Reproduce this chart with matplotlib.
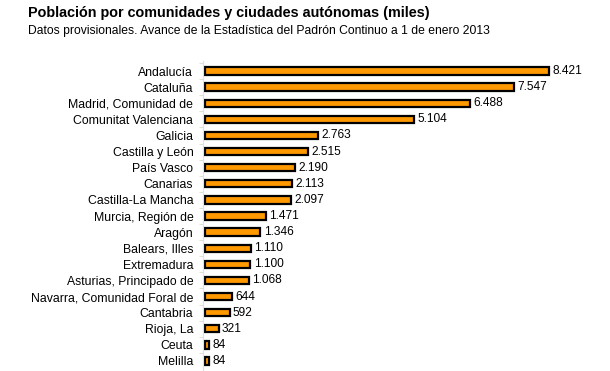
import numpy as np
import matplotlib.pyplot as plt

regiones = ["Andalucía", "Cataluña", "Madrid, Comunidad de", "Comunitat Valenciana",
            "Galicia", "Castilla y León", "País Vasco", "Canarias", "Castilla-La Mancha",
            "Murcia, Región de", "Aragón", "Balears, Illes", "Extremadura",
            "Asturias, Principado de", "Navarra, Comunidad Foral de", "Cantabria",
            "Rioja, La", "Ceuta", "Melilla"]
poblacion = [8421, 7547, 6488, 5104, 2763, 2515, 2190, 2113, 2097,
             1471, 1346, 1110, 1100, 1068, 644, 592, 321, 84, 84]


def fmt(v):
    return f"{v:,}".replace(",", ".")


W, H = 610, 371
fig = plt.figure(figsize=(W / 100, H / 100), dpi=100)
plt.rcParams['font.family'] = ['Liberation Sans', 'DejaVu Sans']

scale = 344 / 8421  # px per unit
x0 = 203
xmax = 9500
step = 16.11
top = 71 - 0.6 * step
bottom = 361 + 0.6 * step
ax = fig.add_axes([x0 / W, 1 - bottom / H, xmax * scale / W, (bottom - top) / H])

y = np.arange(len(regiones))
ax.barh(y, poblacion, height=0.45, left=60, color="#ff9900", edgecolor="black", linewidth=1.6)
for yi, v in zip(y, poblacion):
    ax.text(v + 60 + 80, yi, fmt(v), va="center", ha="left", fontsize=8.6)

ax.set_xlim(0, xmax)
ax.set_ylim(len(regiones) - 0.4, -0.6)
ax.set_yticks(y)
ax.set_yticklabels(regiones, fontsize=8.8)
ax.set_yticks(np.arange(len(regiones)) - 0.5, minor=True)
ax.tick_params(axis="y", which="major", length=0, pad=7)
ax.tick_params(axis="y", which="minor", length=3, color="#e0e0e0", width=0.8)
ax.set_xticks([])
for s in ["top", "right", "bottom"]:
    ax.spines[s].set_visible(False)
ax.spines["left"].set_color("#e0e0e0")
ax.spines["left"].set_linewidth(0.8)

fig.text(28 / W, 1 - 13 / H, "Población por comunidades y ciudades autónomas (miles)",
         fontsize=10.4, fontweight="bold", va="center", ha="left")
fig.text(28 / W, 1 - 31 / H,
         "Datos provisionales. Avance de la Estadística del Padrón Continuo a 1 de enero 2013",
         fontsize=8.7, va="center", ha="left")

fig.savefig("out.png", dpi=100)
